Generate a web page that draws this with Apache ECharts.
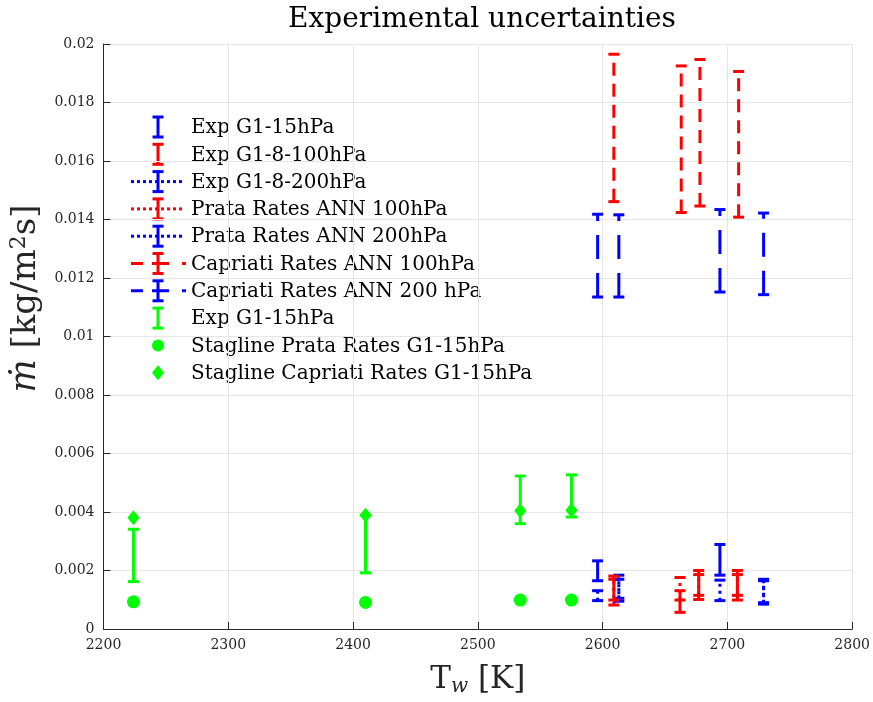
<!DOCTYPE html>
<html>
<head>
<meta charset="utf-8">
<script src="https://cdn.jsdelivr.net/npm/echarts@6/dist/echarts.min.js"></script>
<style>html,body{margin:0;padding:0;background:#fff}#c{width:873px;height:702px}</style>
</head>
<body>
<div id="c"></div>
<script>
// ---- data ----
var xTicks = [2200, 2300, 2400, 2500, 2600, 2700, 2800];
var yTicks = [0, 0.002, 0.004, 0.006, 0.008, 0.01, 0.012, 0.014, 0.016, 0.018, 0.02];

// Exp G1-15hPa (blue, solid)
var expG115_T = [2596, 2694];
var expG115_lo = [0.00165, 0.00184];
var expG115_hi = [0.00233, 0.00289];

// Exp G1-8-100hPa (red, solid)
var expG18_100_T = [2609, 2662, 2677, 2708];
var expG18_100_lo = [0.00099, 0.00057, 0.00101, 0.00099];
var expG18_100_hi = [0.00181, 0.00131, 0.00186, 0.00186];

// Exp G1-8-200hPa (blue, dotted)
var expG18_200_T = [2613, 2729];
var expG18_200_lo = [0.00095, 0.00085];
var expG18_200_hi = [0.00184, 0.00170];

// Prata Rates ANN 100hPa (red, dotted)
var prata100_T = [2609, 2662, 2677, 2708];
var prata100_lo = [0.00082, 0.00099, 0.00115, 0.00115];
var prata100_hi = [0.00170, 0.00176, 0.00200, 0.00200];

// Prata Rates ANN 200hPa (blue, dotted)
var prata200_T = [2596, 2613, 2694, 2729];
var prata200_lo = [0.00097, 0.00105, 0.00097, 0.00090];
var prata200_hi = [0.00131, 0.00170, 0.00167, 0.00165];

// Capriati Rates ANN 100hPa (red, dashed)
var capr100_T = [2609, 2663, 2678, 2709];
var capr100_lo = [0.01461, 0.01424, 0.01446, 0.01408];
var capr100_hi = [0.01965, 0.01925, 0.01947, 0.01906];

// Capriati Rates ANN 200 hPa (blue, dashed)
var capr200_T = [2596, 2613, 2694, 2729];
var capr200_lo = [0.01135, 0.01135, 0.01152, 0.01143];
var capr200_hi = [0.01418, 0.01416, 0.01434, 0.01422];

// Exp G1-15hPa (green, solid)
var expGreen_T = [2224, 2410, 2534, 2575];
var expGreen_lo = [0.00162, 0.00192, 0.00360, 0.00383];
var expGreen_hi = [0.00341, 0.00389, 0.00523, 0.00527];

// Stagline Prata Rates G1-15hPa (green circles)
var stagPrata_T = [2224, 2410, 2534, 2575];
var stagPrata_v = [0.00093, 0.00091, 0.00099, 0.00099];

// Stagline Capriati Rates G1-15hPa (green diamonds)
var stagCapr_T = [2224, 2410, 2534, 2575];
var stagCapr_v = [0.00380, 0.00389, 0.00404, 0.00406];

var legendNames = [
  'Exp G1-15hPa', 'Exp G1-8-100hPa', 'Exp G1-8-200hPa', 'Prata Rates ANN 100hPa',
  'Prata Rates ANN 200hPa', 'Capriati Rates ANN 100hPa', 'Capriati Rates ANN 200 hPa',
  'Exp G1-15hPa', 'Stagline Prata Rates G1-15hPa', 'Stagline Capriati Rates G1-15hPa'
];

// ---- styles ----
var BLUE = '#0000ff', RED = '#ff0000', GREEN = '#00ff00';
var DOT = [3, 4], DASH = [13, 8];
var SERIF = '"DejaVu Serif", "Liberation Serif", serif';

function zip3(a, b, c) { return a.map(function (v, i) { return [v, b[i], c[i]]; }); }
function zip2(a, b) { return a.map(function (v, i) { return [v, b[i]]; }); }

function errRender(color, dash) {
  return function (params, api) {
    var x = api.value(0), lo = api.value(1), hi = api.value(2);
    var pLo = api.coord([x, lo]), pHi = api.coord([x, hi]);
    var cw = 11;
    return {
      type: 'group',
      children: [
        { type: 'line', shape: { x1: pLo[0], y1: pLo[1], x2: pHi[0], y2: pHi[1] },
          style: { stroke: color, lineWidth: 3, lineDash: dash || null } },
        { type: 'line', shape: { x1: pLo[0] - cw / 2, y1: pLo[1], x2: pLo[0] + cw / 2, y2: pLo[1] },
          style: { stroke: color, lineWidth: 3 } },
        { type: 'line', shape: { x1: pHi[0] - cw / 2, y1: pHi[1], x2: pHi[0] + cw / 2, y2: pHi[1] },
          style: { stroke: color, lineWidth: 3 } }
      ]
    };
  };
}
function errSeries(name, T, lo, hi, color, dash) {
  return {
    type: 'custom', name: name, renderItem: errRender(color, dash),
    data: zip3(T, lo, hi), encode: { x: 0, y: [1, 2] }, silent: true, z: 3
  };
}

// ---- legend (drawn as graphics, text kept as real text) ----
var legendGraphics = [];
var lx = 158, ly0 = 127, ldy = 27.3, textX = 191;
var legendKinds = [
  { c: BLUE, k: 'bar' }, { c: RED, k: 'bar' }, { c: BLUE, k: 'dot' }, { c: RED, k: 'dot' },
  { c: BLUE, k: 'dot' }, { c: RED, k: 'dash' }, { c: BLUE, k: 'dash' }, { c: GREEN, k: 'bar' },
  { c: GREEN, k: 'circle' }, { c: GREEN, k: 'diamond' }
];
legendKinds.forEach(function (it, i) {
  var y = ly0 + i * ldy;
  if (it.k === 'bar' || it.k === 'dot' || it.k === 'dash') {
    if (it.k === 'dot') {
      legendGraphics.push({ type: 'line', shape: { x1: 131, y1: y, x2: 185, y2: y },
        style: { stroke: it.c, lineWidth: 3, lineDash: [3, 3] } });
    }
    if (it.k === 'dash') {
      legendGraphics.push({ type: 'line', shape: { x1: 131, y1: y, x2: 186, y2: y },
        style: { stroke: it.c, lineWidth: 3, lineDash: [12, 9, 17, 13] } });
    }
    legendGraphics.push({ type: 'line', shape: { x1: lx, y1: y - 10, x2: lx, y2: y + 10 },
      style: { stroke: it.c, lineWidth: 3 } });
    legendGraphics.push({ type: 'line', shape: { x1: lx - 5.5, y1: y - 10, x2: lx + 5.5, y2: y - 10 },
      style: { stroke: it.c, lineWidth: 3 } });
    legendGraphics.push({ type: 'line', shape: { x1: lx - 5.5, y1: y + 10, x2: lx + 5.5, y2: y + 10 },
      style: { stroke: it.c, lineWidth: 3 } });
  } else if (it.k === 'circle') {
    legendGraphics.push({ type: 'circle', shape: { cx: lx, cy: y, r: 6 }, style: { fill: it.c } });
  } else {
    legendGraphics.push({ type: 'polygon', shape: { points: [[lx, y - 7.5], [lx + 6, y], [lx, y + 7.5], [lx - 6, y]] },
      style: { fill: it.c } });
  }
  legendGraphics.push({ type: 'text', x: textX, y: y + 1, style: {
    text: legendNames[i], font: '20px ' + SERIF, fill: '#000', textVerticalAlign: 'middle', verticalAlign: 'middle' } });
});

var option = {
  backgroundColor: '#fff',
  animation: false,
  title: {
    text: 'Experimental uncertainties', left: 477, top: 1, textAlign: 'center',
    textStyle: { fontFamily: SERIF, fontSize: 28, fontWeight: 'normal', color: '#000' }
  },
  grid: { left: 102, right: 20, top: 44, bottom: 71, containLabel: false },
  xAxis: {
    type: 'value', min: 2200, max: 2800, interval: 100,
    name: '{n|T}{s|w}{n| [K]}', nameLocation: 'middle', nameGap: 33,
    nameTextStyle: { rich: {
      n: { fontFamily: SERIF, fontSize: 31, color: '#262626' },
      s: { fontFamily: SERIF, fontSize: 20, fontStyle: 'italic', color: '#262626', verticalAlign: 'bottom', padding: [15, 0, 0, 0] }
    } },
    axisLine: { show: true, onZero: false, lineStyle: { color: '#262626', width: 1 } },
    axisTick: { show: true, inside: true, length: 7, lineStyle: { color: '#262626' } },
    axisLabel: { fontFamily: SERIF, fontSize: 14, color: '#262626', margin: 9,
      formatter: function (v) { return String(v); } },
    splitLine: { show: true, lineStyle: { color: '#e6e6e6', width: 1 } }
  },
  yAxis: {
    type: 'value', min: 0, max: 0.02, interval: 0.002,
    name: '{i|ṁ}{n| [kg/m}{s|2}{n|s]}', nameLocation: 'middle', nameGap: 50, nameRotate: 90,
    nameTextStyle: { padding: [0, 0, 0, 76], rich: {
      i: { fontFamily: SERIF, fontSize: 35, fontStyle: 'italic', color: '#262626' },
      n: { fontFamily: SERIF, fontSize: 34, color: '#262626' },
      s: { fontFamily: SERIF, fontSize: 22, color: '#262626', verticalAlign: 'top', padding: [0, 0, 14, 0] }
    } },
    axisLine: { show: true, onZero: false, lineStyle: { color: '#262626', width: 1 } },
    axisTick: { show: true, inside: true, length: 7, lineStyle: { color: '#262626' } },
    axisLabel: { fontFamily: SERIF, fontSize: 14, color: '#262626', margin: 9,
      formatter: function (v) { return String(+v.toFixed(3)); } },
    splitLine: { show: true, lineStyle: { color: '#e6e6e6', width: 1 } }
  },
  graphic: legendGraphics,
  series: [
    errSeries('Capriati Rates ANN 100hPa', capr100_T, capr100_lo, capr100_hi, RED, DASH),
    errSeries('Capriati Rates ANN 200 hPa', capr200_T, capr200_lo, capr200_hi, BLUE, [24, 14]),
    errSeries('Prata Rates ANN 100hPa', prata100_T, prata100_lo, prata100_hi, RED, DOT),
    errSeries('Prata Rates ANN 200hPa', prata200_T, prata200_lo, prata200_hi, BLUE, DOT),
    errSeries('Exp G1-8-200hPa', expG18_200_T, expG18_200_lo, expG18_200_hi, BLUE, DOT),
    errSeries('Exp G1-8-100hPa', expG18_100_T, expG18_100_lo, expG18_100_hi, RED, null),
    errSeries('Exp G1-15hPa', expG115_T, expG115_lo, expG115_hi, BLUE, null),
    errSeries('Exp G1-15hPa (green)', expGreen_T, expGreen_lo, expGreen_hi, GREEN, null),
    { type: 'scatter', name: 'Stagline Prata Rates G1-15hPa', data: zip2(stagPrata_T, stagPrata_v),
      symbol: 'circle', symbolSize: 13, itemStyle: { color: GREEN, opacity: 1 }, z: 4 },
    { type: 'scatter', name: 'Stagline Capriati Rates G1-15hPa', data: zip2(stagCapr_T, stagCapr_v),
      symbol: 'diamond', symbolSize: [12, 15], itemStyle: { color: GREEN, opacity: 1 }, z: 4 }
  ]
};
echarts.init(document.getElementById('c'), null, { renderer: 'canvas' }).setOption(option);
</script>
</body>
</html>
